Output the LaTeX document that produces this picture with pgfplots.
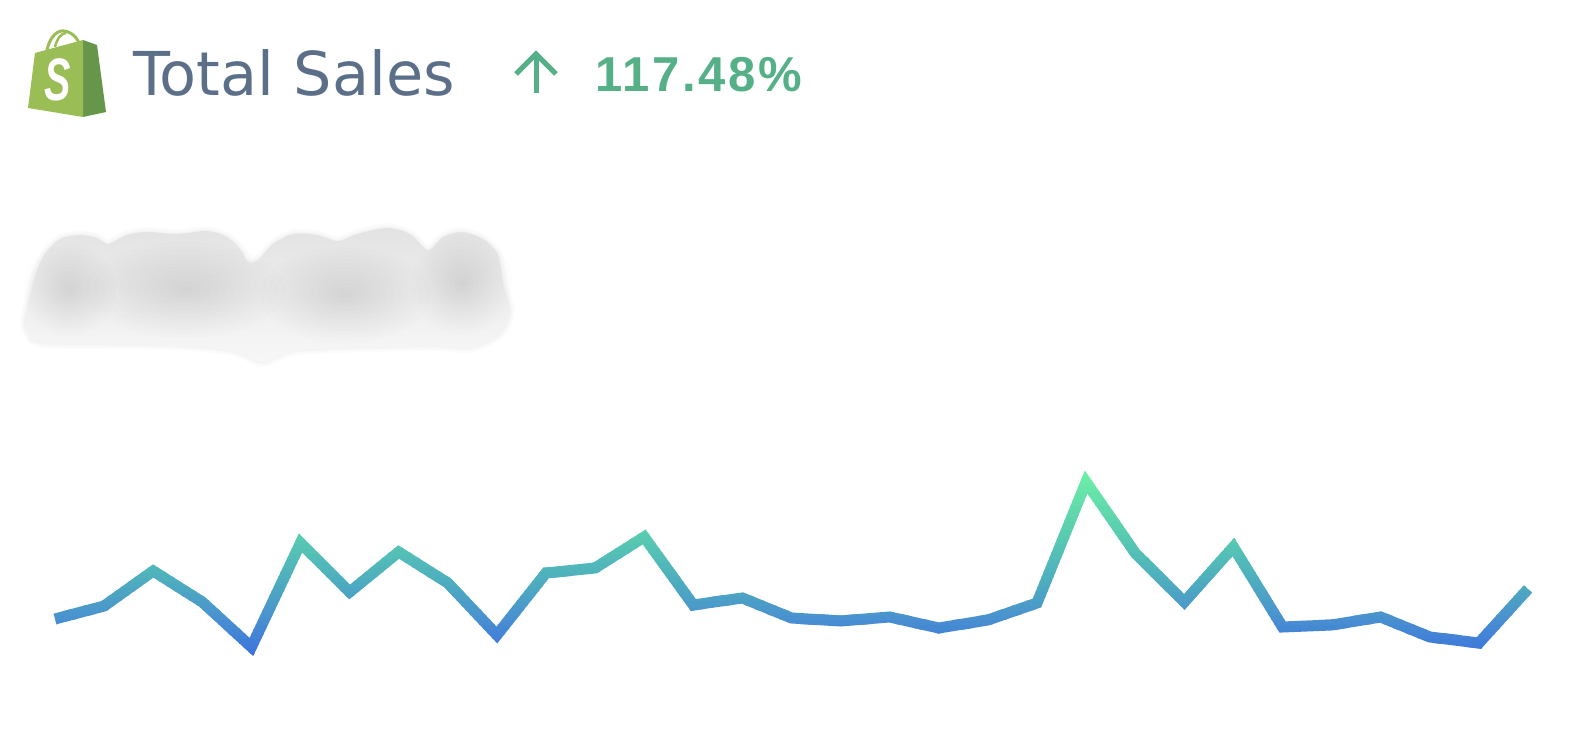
\documentclass[border=0pt]{standalone}
\usepackage{fontspec}
\setmainfont{Liberation Sans}
\newfontfamily\titlefont{DejaVu Sans}
\usepackage{pgfplots}
\pgfplotsset{compat=1.18}
\usepackage{pgfplotstable}

\definecolor{titlegray}{HTML}{5B6F89}
\definecolor{upgreen}{HTML}{55AF87}
\definecolor{baglight}{HTML}{9ABD55}
\definecolor{bagdark}{HTML}{66964A}

% daily sales, height above the bottom of the picture
\pgfplotstableread{
day sales
0  119
1  132
2  167
3  136
4  91
5  195
6  146
7  186
8  155
9  103
10 165
11 170
12 201
13 133
14 140
15 120
16 117
17 121
18 110
19 118
20 135
21 256
22 185
23 136
24 191
25 111
26 113
27 121
28 101
29 95
30 149
}\salesdata

\pgfplotsset{colormap={salesramp}{
  rgb255(0cm)=(59,110,224)
  rgb255(45cm)=(74,147,206)
  rgb255(75cm)=(77,170,192)
  rgb255(125cm)=(88,203,176)
  rgb255(190cm)=(110,240,165)
}}

\begin{document}
\begin{tikzpicture}[x=1pt,y=1pt]
\path[use as bounding box] (0,0) rectangle (1580,738);

% header and the smudge, in picture pixels measured from the top
\begin{scope}[shift={(0,738)},y=-1pt]
  % bag
  \draw[baglight,line width=3pt] (47,50) .. controls (50,36) and (58,30) .. (64,31) .. controls (72,32) and (78,38) .. (80,46);
  \draw[baglight,line width=2.5pt] (55,47) .. controls (57,38) and (62,33) .. (66,33);
  \fill[bagdark] (83,40) -- (97,45) -- (106,112) -- (83,117) -- cycle;
  \fill[baglight] (28,108) -- (35,53) -- (83,40) -- (83,117) -- cycle;
  \node[white,font=\fontsize{60}{60}\selectfont\bfseries\itshape,xscale=.66,inner sep=0pt] at (58,80) {S};
  % title
  \node[anchor=base west,inner sep=0pt,text=titlegray,font=\titlefont\fontsize{60.5}{61}\selectfont] at (133,96) {Total Sales};
  % arrow and change
  \draw[upgreen,line width=5pt] (536,93) -- (536,54);
  \draw[upgreen,line width=5pt,miter limit=4] (516,74) -- (536,54) -- (556,74);
  \node[anchor=base west,inner sep=0pt,text=upgreen,font=\fontsize{49}{49}\selectfont\bfseries\addfontfeatures{LetterSpace=5.6}] at (595,92) {117.48\%};
  % smudge over the hidden figure
  \def\smudge{(25,320) (35,277) (45,254) (60,239) (80,235) (97,238) (108,244) (127,235) (147,232) (177,234) (207,231) (227,237) (240,249) (248,262) (258,260) (273,244) (293,234) (317,235) (338,241) (357,234) (387,228) (410,234) (428,250) (443,237) (462,232) (483,239) (498,255) (503,284) (510,309) (505,327) (491,340) (467,348) (427,346) (300,350) (263,362) (233,351) (167,345) (45,343) (29,333)}
  \foreach \w in {10,7,4,2}
    \draw[black,opacity=.011,line width=\w pt] plot[smooth cycle,tension=.5] coordinates {\smudge};
  \shade[top color=black!11,middle color=black!12,bottom color=black!3] plot[smooth cycle,tension=.5] coordinates {\smudge};
  \foreach \cx/\cy/\rx/\ry in {70/290/46/46,185/290/100/48,345/295/85/48,462/284/50/50}
    \foreach \k in {1,...,12}
      \fill[black,opacity=.0095] (\cx,\cy) ellipse ({\rx*\k/12} and {\ry*\k/12});
\end{scope}

\begin{axis}[
  at={(0,0)}, anchor=south west,
  scale only axis, width=1580pt, height=738pt,
  hide axis,
  xmin=-1.12, xmax=31.06,
  ymin=0, ymax=738,
  colormap name=salesramp,
]
% same line drawn once per height band, so its colour follows the height
\pgfplotsinvokeforeach{0,25,...,1000}{
  \addplot[
    color of colormap={#1}, draw=., no marks, line width=11pt, line join=miter,
    miter limit=10,
    execute at begin plot visualization={\begin{pgfscope}\clip (axis cs:-2,78+0.19*#1-2.7) rectangle (axis cs:32,78+0.19*#1+2.7);},
    execute at end plot visualization={\end{pgfscope}},
  ] table[x=day,y=sales] {\salesdata};
}
\end{axis}
\end{tikzpicture}
\end{document}
